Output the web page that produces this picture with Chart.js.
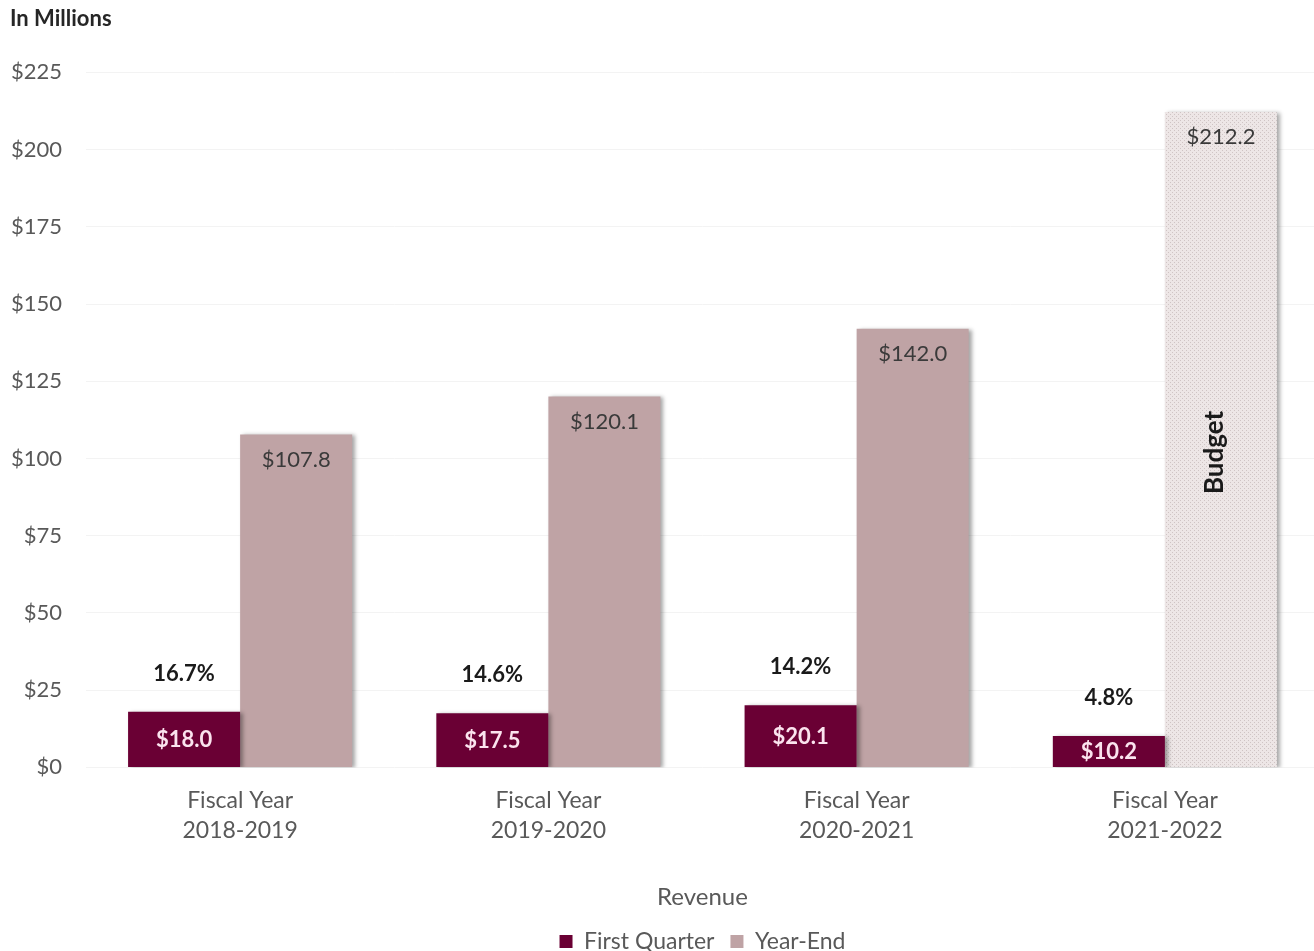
<!DOCTYPE html>
<html>
<head>
<meta charset="utf-8">
<script src="https://cdn.jsdelivr.net/npm/chart.js@4.4.0/dist/chart.umd.min.js"></script>
<style>
  html, body { margin: 0; padding: 0; background: #fff; overflow: hidden; }
  #wrap { width: 1320px; height: 963px; }
</style>
</head>
<body>
<div id="wrap"><canvas id="revChart"></canvas></div>
<script>
// revenue by fiscal year, in millions
var years = [["Fiscal Year", "2018-2019"], ["Fiscal Year", "2019-2020"], ["Fiscal Year", "2020-2021"], ["Fiscal Year", "2021-2022"]];
var firstQuarter = [18.0, 17.5, 20.1, 10.2];
var yearEnd = [107.8, 120.1, 142.0, 212.2];
var budgetIndex = 3; // last year-end value is the budget, not actuals
var yTicks = [0, 25, 50, 75, 100, 125, 150, 175, 200, 225];

var maroon = "#6A0034";
var rose = "#BFA3A5";
var grey = "#595959";

// dotted fill for the budget bar
function dotPattern() {
  var c = document.createElement("canvas");
  c.width = 4; c.height = 4;
  var g = c.getContext("2d");
  g.fillStyle = "#EDE6E6";
  g.fillRect(0, 0, 4, 4);
  g.fillStyle = "#CFC4C4";
  g.fillRect(0, 0, 1, 1);
  g.fillRect(2, 2, 1, 1);
  return g.createPattern(c, "repeat");
}
var budgetFill = dotPattern();

var fmt = function (v) { return "$" + v.toFixed(1); };

var barShadow = {
  id: "barShadow",
  beforeDatasetsDraw: function (chart) {
    var ctx = chart.ctx;
    ctx.save();
    ctx.shadowColor = "rgba(0,0,0,0.35)";
    ctx.shadowBlur = 4;
    ctx.shadowOffsetX = 3;
    ctx.shadowOffsetY = 1;
  },
  afterDatasetsDraw: function (chart) {
    chart.ctx.restore();
  }
};

var barLabels = {
  id: "barLabels",
  afterDraw: function (chart) {
    var ctx = chart.ctx;
    var fq = chart.getDatasetMeta(0).data;
    var ye = chart.getDatasetMeta(1).data;
    ctx.save();
    ctx.textAlign = "center";
    ctx.textBaseline = "middle";
    for (var i = 0; i < fq.length; i++) {
      var b = fq[i];
      // value inside the first-quarter bar
      ctx.font = "bold 22px Lato";
      ctx.fillStyle = "#FBE3EE";
      ctx.fillText(fmt(firstQuarter[i]), b.x, (b.y + b.base) / 2 + 1);
      // share of the year-end total
      var pct = (firstQuarter[i] / yearEnd[i] * 100).toFixed(1) + "%";
      ctx.fillStyle = "#1a1a1a";
      ctx.fillText(pct, b.x, b.y - 38);
      // year-end value near the top of its bar
      var e = ye[i];
      ctx.font = "22px Lato";
      ctx.fillStyle = "#3a3a3a";
      ctx.fillText(fmt(yearEnd[i]), e.x, e.y + 25);
    }
    var bb = ye[budgetIndex];
    ctx.translate(bb.x - 6, (bb.y + bb.base) / 2 + 13);
    ctx.rotate(-Math.PI / 2);
    ctx.font = "bold 26px Lato";
    ctx.fillStyle = "#1a1a1a";
    ctx.fillText("Budget", 0, 0);
    ctx.restore();
  }
};

new Chart("revChart", {
  type: "bar",
  data: {
    labels: years,
    datasets: [{
      label: "First Quarter",
      data: firstQuarter,
      backgroundColor: maroon
    }, {
      label: "Year-End",
      data: yearEnd,
      backgroundColor: function (c) {
        return c.dataIndex === budgetIndex ? budgetFill : rose;
      }
    }]
  },
  options: {
    responsive: true,
    maintainAspectRatio: false,
    animation: false,
    categoryPercentage: 0.727,
    barPercentage: 1.0,
    layout: { padding: { left: 10, right: 1, top: 6, bottom: 0 } },
    scales: {
      x: {
        grid: { display: false },
        border: { display: false },
        ticks: { color: grey, font: { family: "Lato", size: 23, lineHeight: 1.3 }, padding: 10 },
        title: {
          display: true, text: "Revenue", color: grey,
          font: { family: "Lato", size: 24 }, padding: { top: 28, bottom: 2 }
        }
      },
      y: {
        min: 0, max: 225,
        afterBuildTicks: function (s) { s.ticks = yTicks.map(function (v) { return { value: v }; }); },
        afterFit: function (s) { s.width = 76; },
        grid: { color: "#F3F3F3", drawTicks: false },
        border: { display: false },
        ticks: {
          color: grey, padding: 24,
          font: { family: "Lato", size: 22 },
          callback: function (v) { return "$" + v; }
        }
      }
    },
    plugins: {
      title: {
        display: true, text: "In Millions", align: "start",
        color: "#262626", font: { family: "Lato", size: 22, weight: "bold" },
        padding: { top: 0, bottom: 40 }
      },
      legend: {
        position: "bottom",
        fullSize: false,
        labels: { color: grey, font: { family: "Lato", size: 23 }, boxWidth: 13, boxHeight: 13, padding: 16 }
      },
      tooltip: { enabled: false }
    }
  },
  plugins: [barShadow, barLabels]
});
</script>
</body>
</html>
